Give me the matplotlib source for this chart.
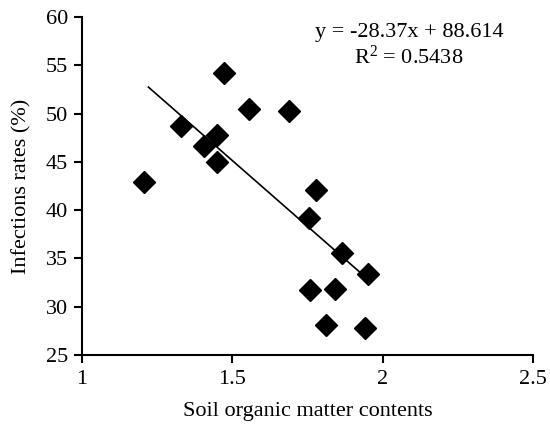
import matplotlib
matplotlib.use("Agg")
import matplotlib.pyplot as plt
import numpy as np

plt.rcParams['font.family'] = ['Liberation Serif', 'DejaVu Serif']
plt.rcParams['mathtext.fontset'] = 'custom'
plt.rcParams['mathtext.rm'] = 'Liberation Serif'
plt.rcParams['mathtext.it'] = 'Liberation Serif:italic'

som = [1.206, 1.473, 1.331, 1.405, 1.449, 1.449, 1.557, 1.687, 1.779,
       1.755, 1.864, 1.953, 1.758, 1.842, 1.813, 1.940]
infection = [42.9, 54.2, 48.7, 46.6, 47.8, 45.0, 50.5, 50.3, 42.1,
             39.2, 35.6, 33.4, 31.7, 31.8, 28.1, 27.8]
slope, intercept = -28.37, 88.614
r2 = 0.5438
xticks = [1, 1.5, 2, 2.5]
xticklabels = ['1', '1.5', '2', '2.5']
yticks = [25, 30, 35, 40, 45, 50, 55, 60]

fig = plt.figure(figsize=(5.5, 4.25), dpi=100)
ax = fig.add_axes([0.149, 0.165, 0.82, 0.795])

ax.plot(som, infection, linestyle='none', marker='D', markersize=11,
        color='black', zorder=3)

# trend line from least squares fit over data range
p = np.polyfit(som, infection, 1)
xl = np.array([min(som) + 0.015, max(som) - 0.013])
ax.plot(xl, np.polyval(p, xl) + 0.3, color='black', linewidth=1.2, zorder=2)

ax.set_xlim(1, 2.5)
ax.set_ylim(25, 60)
ax.set_xticks(xticks)
ax.set_xticklabels(xticklabels)
ax.set_yticks(yticks)
for s in ['top', 'right']:
    ax.spines[s].set_visible(False)
for s in ['left', 'bottom']:
    ax.spines[s].set_linewidth(1.5)
ax.tick_params(axis='both', direction='out', length=6, width=1.5,
               labelsize=16, colors='black')
ax.tick_params(axis='x', pad=5)
ax.tick_params(axis='y', pad=4)

ax.set_xlabel('Soil organic matter contents', fontsize=16, labelpad=9)
ax.set_ylabel('Infections rates (%)', fontsize=16, labelpad=10)

ax.text(0.725, 0.955, 'y = -28.37x + 88.614', transform=ax.transAxes,
        ha='center', va='center', fontsize=16)
ax.text(0.725, 0.88, '$\\mathrm{R}^{\\mathrm{2}}$ = %.4f' % r2, transform=ax.transAxes,
        ha='center', va='center', fontsize=16)

fig.savefig('out.png', dpi=100)
